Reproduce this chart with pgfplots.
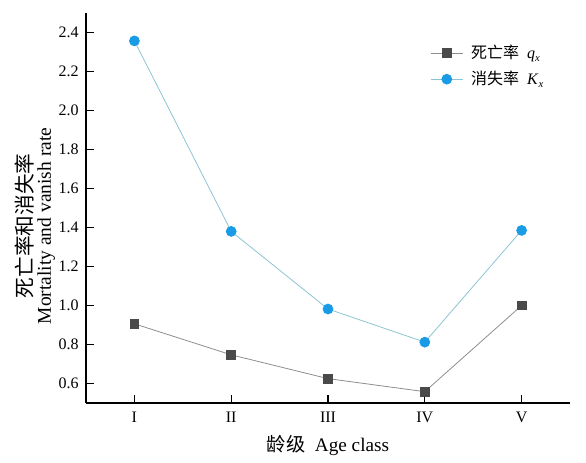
\documentclass[border=0pt]{standalone}
\usepackage{pgfplots}
\pgfplotsset{compat=1.18}
\usepackage{fontspec}
\setmainfont{Liberation Serif}
\newfontfamily\cjk{Noto Sans CJK SC}
\definecolor{qcol}{HTML}{4A4A4A}
\definecolor{qline}{HTML}{8E8E8E}
\definecolor{kcol}{HTML}{1A9BE6}
\definecolor{kline}{HTML}{8CC4D4}
\begin{document}
\begin{tikzpicture}
\begin{axis}[
  scale only axis,
  width=363pt, height=292.5pt,
  xmin=0.5, xmax=5.5, ymin=0.5, ymax=2.5,
  axis lines=left,
  axis line style={line width=1pt, -},
  xtick={1,2,3,4,5},
  xticklabels={I,II,III,IV,V},
  ytick={0.6,0.8,1.0,1.2,1.4,1.6,1.8,2.0,2.2,2.4},
  yticklabel style={xshift=-2pt, /pgf/number format/.cd, fixed, fixed zerofill, precision=1},
  /pgf/number format/assume math mode=true,
  tick style={line width=0.8pt, black},
  major tick length=6pt,
  tick align=inside,
  ticklabel style={font=\fontsize{12}{14}\selectfont},
  xticklabel style={yshift=-3pt},
  xlabel={{\cjk 龄级}\ \ Age class},
  xlabel style={font=\fontsize{14.4}{16}\selectfont, yshift=-3pt},
  ylabel={{\fontsize{15.5}{15}\selectfont\cjk 死亡率和消失率}\\Mortality and vanish rate},
  ylabel style={font=\fontsize{14.6}{14}\selectfont, align=center, at={(rel axis cs:0,0.454)}, anchor=south, yshift=23pt, inner sep=0pt},
  legend style={draw=none, fill=none, at={(rel axis cs:0.711,0.925)}, anchor=north west,
    font=\fontsize{12}{13}\selectfont, row sep=4pt, inner sep=0pt,
    nodes={inner xsep=6pt}},
  legend cell align=left,
  legend image code/.code={\draw[#1,mark repeat=2,mark phase=2] plot coordinates {(0pt,0pt) (12pt,0pt) (24pt,0pt)};},
  clip=false,
]
\addplot[qline, line width=0.6pt, mark=square*, mark size=3.3pt, mark options={qcol, fill=qcol}]
  coordinates {(1,0.906) (2,0.747) (3,0.625) (4,0.558) (5,1.0)};
\addlegendentry{{\cjk 死亡率}\ \ \textit{q}\textsubscript{\textit{x}}}
\addplot[kline, line width=0.6pt, mark=*, mark size=3.7pt, mark options={kcol, fill=kcol}]
  coordinates {(1,2.357) (2,1.38) (3,0.982) (4,0.812) (5,1.385)};
\addlegendentry{{\cjk 消失率}\ \ \textit{K}\textsubscript{\textit{x}}}
\end{axis}
\pgfresetboundingbox
\path[use as bounding box] ([shift={(-64.5pt,-45pt)}]current axis.south west) rectangle ([shift={(12pt,9.75pt)}]current axis.north east);
\end{tikzpicture}
\end{document}
